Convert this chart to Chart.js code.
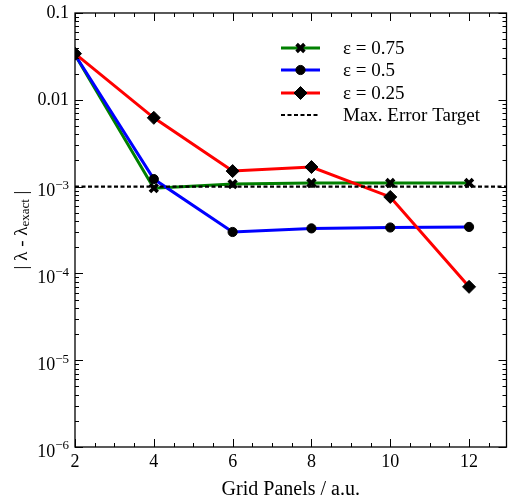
<!DOCTYPE html>
<html><head><meta charset="utf-8">
<style>html,body{margin:0;padding:0;background:#fff}#wrap{width:508px;height:498px}</style>
<script src="https://cdn.jsdelivr.net/npm/chart.js@4/dist/chart.umd.min.js"></script>
</head><body><div id="wrap"><canvas id="c" width="508" height="498"></canvas></div>
<script>
// ---- data ----
const gridPanels = [2, 4, 6, 8, 10, 12];
const eps075 = [0.033, 0.00096, 0.00107, 0.0011, 0.0011, 0.0011];
const eps050 = [0.033, 0.00122, 0.00030, 0.00033, 0.000338, 0.000343];
const eps025 = [0.034, 0.0062, 0.00151, 0.00168, 0.00076, 0.00007];
const maxErrorTarget = 0.001;
const seriesLabels = ['ε = 0.75', 'ε = 0.5', 'ε = 0.25', 'Max. Error Target'];
const xTickValues = [2, 4, 6, 8, 10, 12];
const xTickLabels = ['2', '4', '6', '8', '10', '12'];
const yTickValues = [0.1, 0.01, 1e-3, 1e-4, 1e-5, 1e-6];
const yTickBases = ['0.1', '0.01', '10', '10', '10', '10'];
const yTickExps = ['', '', '−3', '−4', '−5', '−6'];
const xRange = [2, 12.95];
const yRange = [1e-6, 0.1];
const xTitle = 'Grid Panels / a.u.';

const FONT = '"Liberation Serif", "Times New Roman", serif';
const pts = arr => gridPanels.map((x, i) => ({x, y: arr[i]}));

const datasets = [
  {label: seriesLabels[0], data: pts(eps075), borderColor: '#008000', borderWidth: 3,
   pointStyle: 'crossRot', pointRadius: 5.5, pointBorderWidth: 3.6, pointBorderColor: '#000', pointBackgroundColor: '#000', order: 4},
  {label: seriesLabels[1], data: pts(eps050), borderColor: '#0000ff', borderWidth: 3,
   pointStyle: 'circle', pointRadius: 4.6, pointBorderWidth: 1, pointBorderColor: '#000', pointBackgroundColor: '#000', order: 3},
  {label: seriesLabels[2], data: pts(eps025), borderColor: '#ff0000', borderWidth: 3,
   pointStyle: 'rectRot', pointRadius: 6.5, pointBorderWidth: 1, pointBorderColor: '#000', pointBackgroundColor: '#000', order: 2},
  {label: seriesLabels[3], data: [{x: xRange[0], y: maxErrorTarget}, {x: xRange[1], y: maxErrorTarget}],
   borderColor: '#000', borderWidth: 2.2, borderDash: [4, 2.5], pointRadius: 0, order: 1}
];

function seg(ctx, x1, y1, x2, y2) { ctx.beginPath(); ctx.moveTo(x1, y1); ctx.lineTo(x2, y2); ctx.stroke(); }

const deco = {
  id: 'deco',
  afterDraw(chart) {
    const ctx = chart.ctx, a = chart.chartArea, xs = chart.scales.x, ys = chart.scales.y;
    ctx.save();
    ctx.strokeStyle = '#000'; ctx.lineWidth = 1;
    // x ticks (major every 2, minor every 0.5), mirrored top
    for (let v = xRange[0]; v <= xRange[1] + 1e-9; v += 0.5) {
      const px = Math.round(xs.getPixelForValue(v)) + 0.5;
      const L = xTickValues.includes(v) ? 8 : 4;
      seg(ctx, px, a.bottom, px, a.bottom - L);
      seg(ctx, px, a.top, px, a.top + L);
    }
    // y ticks (log) mirrored right
    for (let d = -6; d <= -1; d++) {
      for (let m = 1; m <= 9; m++) {
        const v = m * Math.pow(10, d);
        if (v > yRange[1] * 1.0001) break;
        const py = Math.round(ys.getPixelForValue(v)) + 0.5;
        const L = m === 1 ? 8 : 4;
        seg(ctx, a.left, py, a.left + L, py);
        seg(ctx, a.right, py, a.right - L, py);
      }
    }
    // frame
    ctx.lineWidth = 1.3;
    ctx.strokeRect(a.left, a.top, a.right - a.left, a.bottom - a.top);

    ctx.fillStyle = '#000';
    // x tick labels
    ctx.font = '18px ' + FONT; ctx.textAlign = 'center'; ctx.textBaseline = 'middle';
    xTickValues.forEach((v, i) => ctx.fillText(xTickLabels[i], xs.getPixelForValue(v), 462));
    // y tick labels
    yTickValues.forEach((v, i) => {
      const py = ys.getPixelForValue(v);
      const rx = a.left - 6;
      ctx.textAlign = 'right'; ctx.textBaseline = 'middle';
      if (!yTickExps[i]) {
        ctx.font = '18px ' + FONT; ctx.fillText(yTickBases[i], rx, py);
      } else {
        ctx.font = '13px ' + FONT;
        const w = ctx.measureText(yTickExps[i]).width;
        ctx.fillText(yTickExps[i], rx, py - 1);
        ctx.font = '18px ' + FONT;
        ctx.fillText(yTickBases[i], rx - w, py + 5);
      }
    });
    // x title
    ctx.font = '20px ' + FONT; ctx.textAlign = 'center'; ctx.textBaseline = 'alphabetic';
    ctx.fillText(xTitle, (a.left + a.right) / 2, 495);
    // y title with subscript
    ctx.save();
    ctx.translate(22, (a.top + a.bottom) / 2);
    ctx.rotate(-Math.PI / 2);
    const p1 = '| λ - λ', p2 = 'exact', p3 = ' |';
    ctx.font = '19px ' + FONT; const w1 = ctx.measureText(p1).width, w3 = ctx.measureText(p3).width;
    ctx.font = '13px ' + FONT; const w2 = ctx.measureText(p2).width;
    let x0 = -(w1 + w2 + w3) / 2;
    ctx.textAlign = 'left'; ctx.textBaseline = 'middle';
    ctx.font = '19px ' + FONT; ctx.fillText(p1, x0, 0);
    ctx.font = '13px ' + FONT; ctx.fillText(p2, x0 + w1, 4);
    ctx.font = '19px ' + FONT; ctx.fillText(p3, x0 + w1 + w2, 0);
    ctx.restore();

    // legend
    const rows = [48, 70, 93, 115];
    chart.data.datasets.forEach((ds, i) => {
      const y = rows[i];
      ctx.save();
      ctx.strokeStyle = ds.borderColor; ctx.lineWidth = ds.borderWidth;
      ctx.setLineDash(ds.borderDash || []);
      seg(ctx, 281, y, 320, y);
      ctx.restore();
      if (ds.pointRadius > 0) {
        ctx.save();
        ctx.fillStyle = ds.pointBackgroundColor; ctx.strokeStyle = ds.pointBorderColor; ctx.lineWidth = ds.pointBorderWidth;
        Chart.helpers.drawPoint(ctx, {pointStyle: ds.pointStyle, radius: ds.pointRadius, borderWidth: ds.pointBorderWidth, rotation: 0}, 300.5, y);
        ctx.restore();
      }
      ctx.fillStyle = '#000'; ctx.font = '19px ' + FONT; ctx.textAlign = 'left'; ctx.textBaseline = 'middle';
      ctx.fillText(ds.label, 343, y + 1);
    });
    ctx.restore();
  }
};

new Chart(document.getElementById('c'), {
  type: 'line',
  data: {datasets},
  options: {
    responsive: false, animation: false, devicePixelRatio: 1,
    layout: {autoPadding: false, padding: {top: 13, right: 1.5, left: 0, bottom: 0}},
    plugins: {legend: {display: false}, tooltip: {enabled: false}},
    elements: {line: {tension: 0}},
    scales: {
      x: {type: 'linear', min: xRange[0], max: xRange[1],
          grid: {display: false}, border: {display: false}, ticks: {display: false},
          afterFit(s) { s.height = 51; }},
      y: {type: 'logarithmic', min: yRange[0], max: yRange[1],
          grid: {display: false}, border: {display: false}, ticks: {display: false},
          afterFit(s) { s.width = 75; }}
    }
  },
  plugins: [deco]
});
</script></body></html>
